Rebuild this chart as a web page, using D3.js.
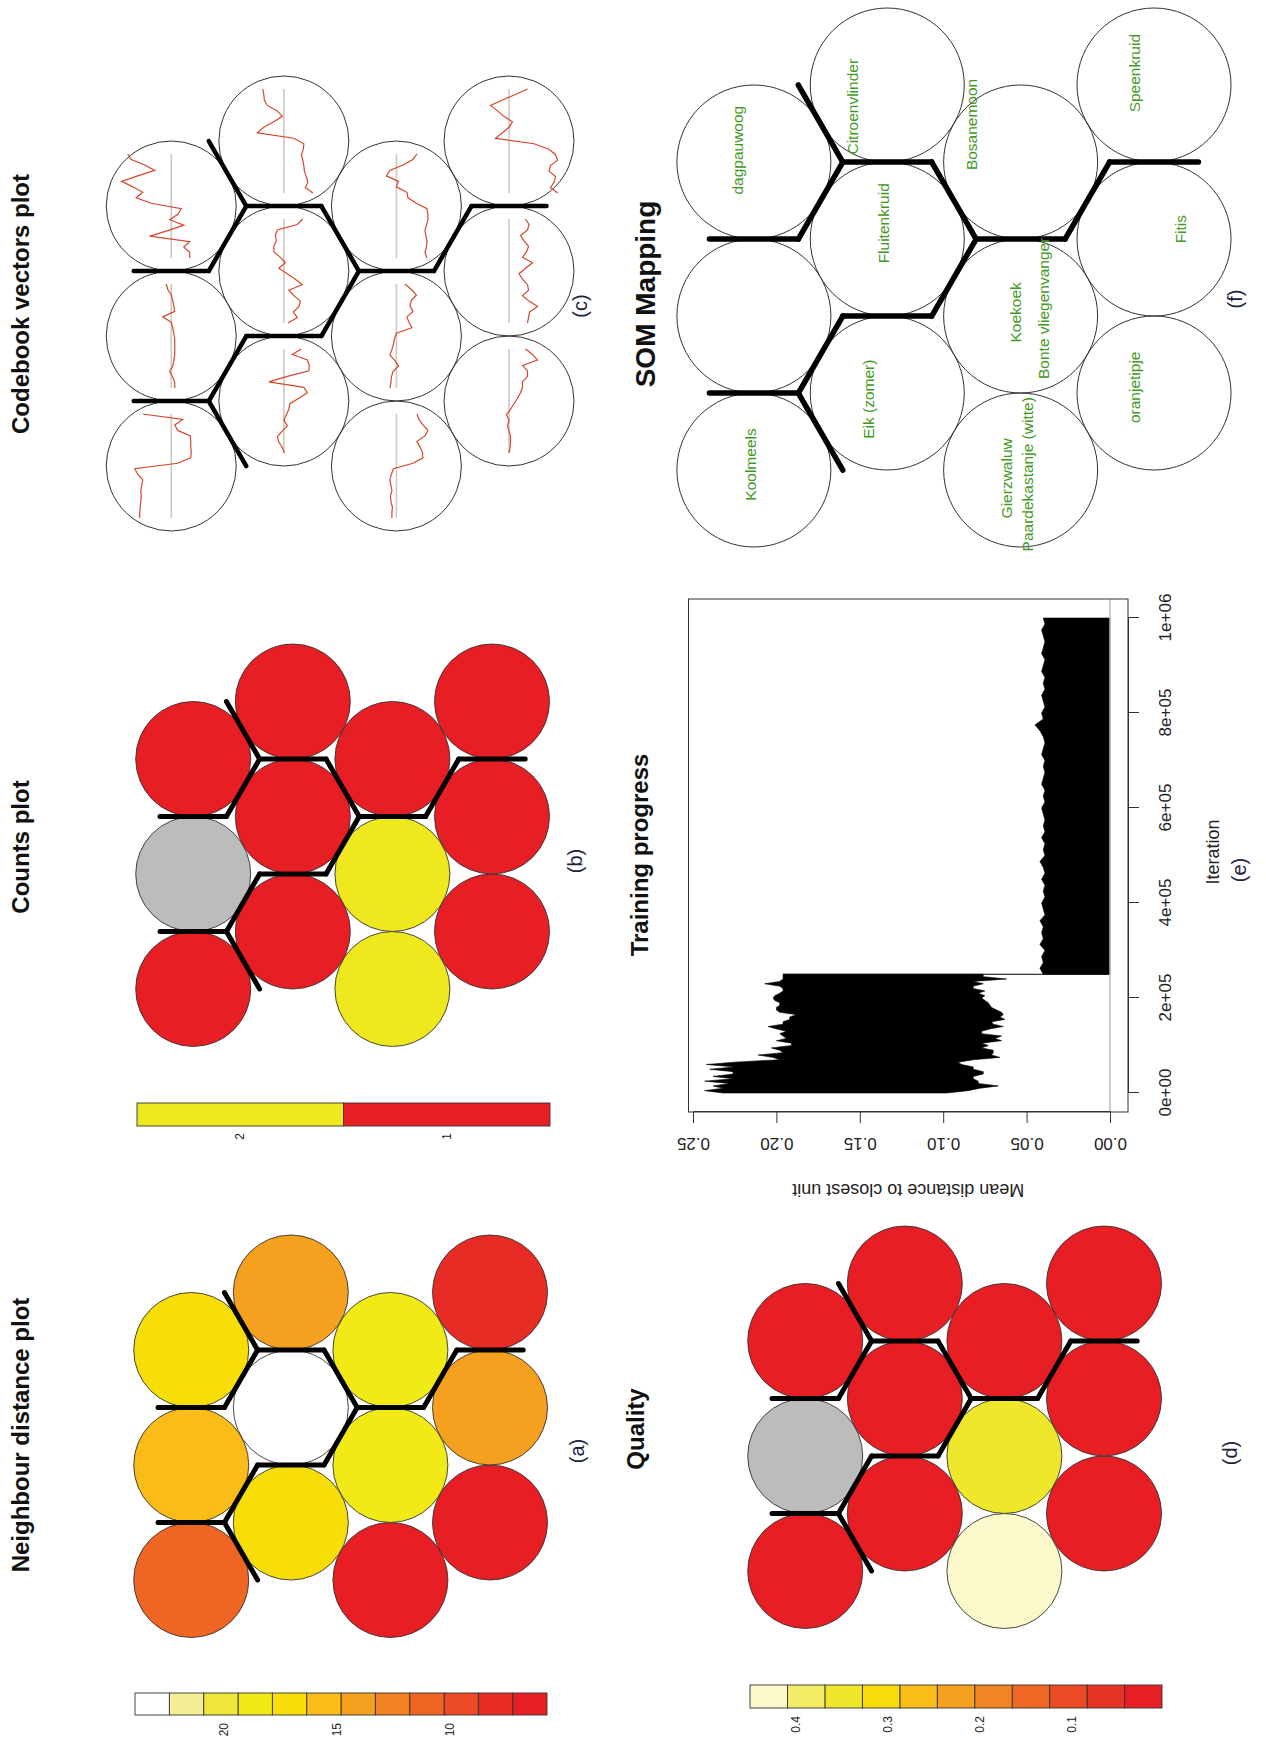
<!DOCTYPE html>
<html>
<head>
<meta charset="utf-8">
<script src="https://cdn.jsdelivr.net/npm/d3@7"></script>
<style>
  body { margin: 0; background: #fff; }
  svg text { font-family: "Liberation Sans", Arial, sans-serif; }
</style>
</head>
<body>
<div id="fig"></div>
<script>
const W = 1266, H = 1742;

// 3 x 4 hexagonal SOM, units in kohonen order: bottom row first, left to right
const xdim = 3, ydim = 4;
const clusters = [1, 1, 2, 1, 1, 2, 1, 3, 2, 4, 3, 5];

// (a) neighbour distances
const neighDist = [6.4, 14.1, 7.9, 5.71, 18.6, 18.9, 17.0, 23.94, 14.3, 11.0, 15.6, 16.8];
const neighRange = [5.71, 23.94];
const neighTicks = [10, 15, 20];
const neighColors = ['#E81E25', '#E62C25', '#EB4A24', '#EF6624', '#F28222', '#F6A020',
                     '#F9BC18', '#F8DE08', '#F2EA16', '#EFE73A', '#F4EE96', '#FFFFFF'];

// (b) counts (0 = empty unit)
const counts = [1, 1, 1, 2, 2, 1, 1, 1, 1, 1, 0, 1];
const countLevels = [1, 2];
const countColors = ['#E81E25', '#F0E81E'];

// (d) quality (null = empty unit)
const quality = [0.012, 0.006, 0.020, 0.45, 0.35, 0.004, 0.015, 0.0022, 0.009, 0.003, null, 0.018];
const qualityRange = [0.0022, 0.45];
const qualityTicks = [0.1, 0.2, 0.3, 0.4];
const qualityColors = ['#E81E25', '#E83425', '#EB4A24', '#EE6823', '#F28523', '#F6A020',
                       '#F9BD18', '#F8DD0C', '#EFE72C', '#F3EB66', '#FBF9CB'];
const emptyColor = '#BCBCBC';

// (c) codebook vectors, 20 variables per unit
const codes = [
  [0, -0.02, -0.03, -0.03, 0, 0.03, 0, 0.05, -0.03, -0.1, -0.17, -0.23, -0.27, -0.27, -0.37, -0.37, -0.27, -0.57, -0.47, -0.33],
  [-0.37, -0.39, -0.41, -0.57, -0.4, -0.27, -0.39, -0.37, -0.27, -0.2, -0.33, -0.47, -0.27, -0.35, -0.39, -0.3, -0.23, -0.37, -0.4, -0.33],
  [-0.97, -0.83, -0.9, -0.93, -0.8, -0.83, -0.97, -0.93, -0.8, -0.5, 0.27, 0.13, 0, -0.07, 0.1, 0.23, 0.37, 0.13, -0.13, -0.37],
  [0.09, 0.09, 0.08, 0.11, 0.12, 0.09, 0.11, 0.13, 0.1, 0.06, -0.33, -0.53, -0.52, -0.47, -0.41, -0.57, -0.63, -0.53, -0.45, -0.41],
  [0.13, 0.11, 0.1, 0.07, -0.04, 0.03, 0.13, 0.09, 0.06, 0.04, 0, -0.31, -0.25, -0.21, -0.33, -0.27, -0.3, -0.4, -0.3, -0.17],
  [-0.61, -0.57, -0.6, -0.61, -0.59, -0.57, -0.6, -0.63, -0.63, -0.61, -0.4, -0.23, -0.21, 0, -0.04, 0.2, 0.13, -0.13, -0.33, -0.41],
  [-0.01, 0.03, 0.1, 0.13, 0.03, -0.07, 0, -0.05, -0.1, -0.12, -0.3, -0.47, -0.4, 0.3, -0.07, -0.5, -0.51, -0.47, -0.17, -0.35],
  [-0.08, -0.27, -0.19, -0.3, -0.33, -0.2, -0.1, -0.37, -0.23, -0.07, 0.1, -0.03, 0.07, 0.2, 0.2, 0.15, 0.17, 0.13, -0.27, -0.38],
  [-0.58, -0.43, -0.48, -0.45, -0.41, -0.4, -0.38, -0.35, -0.39, -0.4, -0.2, 0.53, 0.4, 0.2, 0.03, 0.13, 0.33, 0.39, 0.4, 0.42],
  [0.63, 0.63, 0.62, 0.61, 0.6, 0.61, 0.59, 0.57, 0.67, 0.73, -0.13, -0.39, -0.4, -0.39, -0.39, -0.38, -0.13, -0.07, -0.23, 0.57],
  [-0.07, -0.07, -0.03, 0.03, -0.03, -0.05, -0.07, -0.07, -0.07, -0.07, -0.05, -0.03, 0, 0.17, -0.07, -0.05, -0.03, 0, 0.07, 0.1],
  [-0.37, -0.37, -0.25, -0.37, 0.43, 0.07, -0.25, 0.03, -0.13, -0.2, 0.4, 0.7, 0.57, 0.77, 0.99, 0.67, 0.33, 0.53, 0.8, 0.87]
];

// (e) training progress: envelope of the mean distance line
const iter1 = [0, 5000, 10000, 15000, 20000, 25000, 30000, 35000, 40000, 45000, 50000, 55000, 60000, 65000,
  70000, 75000, 80000, 85000, 90000, 95000, 100000, 105000, 110000, 115000, 120000, 125000, 130000, 135000,
  140000, 145000, 150000, 155000, 160000, 165000, 170000, 175000, 180000, 185000, 190000, 195000, 200000,
  205000, 210000, 215000, 220000, 225000, 230000, 235000, 240000, 245000, 250000];
const hi1 = [0.232, 0.243, 0.232, 0.238, 0.228, 0.243, 0.226, 0.238, 0.226, 0.226, 0.240, 0.225, 0.242, 0.225,
  0.198, 0.202, 0.211, 0.196, 0.198, 0.203, 0.191, 0.191, 0.200, 0.194, 0.196, 0.198, 0.194, 0.200,
  0.205, 0.196, 0.196, 0.192, 0.192, 0.188, 0.198, 0.200, 0.200, 0.198, 0.198, 0.201, 0.202,
  0.201, 0.198, 0.196, 0.196, 0.198, 0.207, 0.198, 0.196, 0.196, 0.196];
const lo1 = [0.098, 0.085, 0.078, 0.067, 0.079, 0.079, 0.082, 0.082, 0.076, 0.076, 0.082, 0.082, 0.089, 0.091,
  0.082, 0.066, 0.071, 0.070, 0.070, 0.077, 0.073, 0.077, 0.065, 0.069, 0.065, 0.077, 0.077, 0.072,
  0.064, 0.070, 0.071, 0.063, 0.066, 0.064, 0.065, 0.068, 0.071, 0.072, 0.073, 0.075, 0.077,
  0.075, 0.079, 0.075, 0.082, 0.082, 0.076, 0.082, 0.062, 0.076, 0.076];
const iter2 = [250000, 262500, 275000, 287500, 300000, 312500, 325000, 337500, 350000, 362500,
  375000, 387500, 400000, 412500, 425000, 437500, 450000, 462500, 475000, 487500,
  500000, 512500, 525000, 537500, 550000, 562500, 575000, 587500, 600000, 612500,
  625000, 637500, 650000, 662500, 675000, 687500, 700000, 712500, 725000, 737500,
  750000, 762500, 775000, 787500, 800000, 812500, 825000, 837500, 850000, 862500,
  875000, 887500, 900000, 912500, 925000, 937500, 950000, 962500, 975000, 987500, 1000000];
const hi2 = [0.040, 0.042, 0.040, 0.041, 0.039, 0.042, 0.040, 0.041, 0.040, 0.042,
  0.039, 0.040, 0.041, 0.039, 0.040, 0.039, 0.041, 0.039, 0.040, 0.042,
  0.039, 0.040, 0.039, 0.041, 0.039, 0.040, 0.039, 0.040, 0.041, 0.039,
  0.040, 0.039, 0.041, 0.040, 0.039, 0.040, 0.039, 0.041, 0.040, 0.039,
  0.040, 0.042, 0.045, 0.040, 0.041, 0.039, 0.040, 0.041, 0.039, 0.040,
  0.039, 0.041, 0.040, 0.039, 0.041, 0.040, 0.039, 0.040, 0.041, 0.039, 0.040];
const jump = {iter: 250000, from: 0.196, to: 0};
const iterTicks = [0, 200000, 400000, 600000, 800000, 1000000];
const distTicks = [0, 0.05, 0.10, 0.15, 0.20, 0.25];

// (f) mapping labels: unit (1-based) and small jitter in grid units
const mapNames = ['oranjetipje', 'Fitis', 'Speenkruid', 'Gierzwaluw', 'Paardekastanje (witte)', 'Koekoek',
  'Bonte vliegenvanger', 'Bosanemoon', 'Eik (zomer)', 'Fluitenkruid', 'Citroenvlinder', 'Koolmeels', 'dagpauwoog'];
const mapUnit = [1, 2, 3, 4, 4, 5, 5, 6, 7, 8, 9, 10, 12];
const mapJitX = [0.037, 0.064, 0.077, -0.054, -0.028, 0.024, 0.05, 0.244, -0.04, 0.102, -0.141, 0.036, 0.077];
const mapJitY = [0.123, -0.171, 0.123, 0.089, -0.045, 0.036, -0.152, 0.316, 0.119, 0.025, 0.226, 0.02, 0.108];

// ---------------------------------------------------------------------------
const SQ3 = Math.sqrt(3);
const units = d3.range(xdim * ydim).map(i => {
  const gx = i % xdim + 1, gy = Math.floor(i / xdim) + 1;
  return {i, X: gx + 0.5 * (gy % 2), Y: gy * SQ3 / 2};
});

// hexagon edges between neighbouring units of different clusters
const boundarySegs = [];
units.forEach(a => units.forEach(b => {
  if (b.i <= a.i) return;
  const dx = b.X - a.X, dy = b.Y - a.Y;
  if (Math.abs(Math.hypot(dx, dy) - 1) > 1e-6) return;
  if (clusters[a.i] === clusters[b.i]) return;
  const mx = (a.X + b.X) / 2, my = (a.Y + b.Y) / 2, h = 0.5 / SQ3;
  boundarySegs.push([[mx - dy * h, my + dx * h], [mx + dy * h, my - dx * h]]);
}));

const svg = d3.select('#fig').append('svg')
  .attr('width', W).attr('height', H)
  .style('background-color', '#fff');

// the figure is a landscape page turned a quarter turn to the left
const fig = svg.append('g').attr('transform', `translate(0,${H}) rotate(-90)`);

const layout = {
  a: {s: 115, x1: 162, yb: 490},
  b: {s: 115, x1: 753, yb: 492},
  c: {s: 130, x1: 1276, yb: 509},
  d: {s: 115, x1: 171, yb: 1104},
  f: {s: 154, x1: 1272, yb: 1154}
};

function hexPanel(p) {
  const g = fig.append('g');
  const x = d3.scaleLinear().domain([1, 2]).range([p.x1, p.x1 + p.s]);
  const y = d3.scaleLinear().domain([SQ3 / 2, SQ3]).range([p.yb, p.yb - p.s * SQ3 / 2]);
  return {g, x, y, r: p.s / 2};
}

function drawUnits(P, fill, sw) {
  P.g.selectAll('circle.unit').data(units).join('circle')
    .attr('class', 'unit')
    .attr('cx', u => P.x(u.X))
    .attr('cy', u => P.y(u.Y))
    .attr('r', P.r)
    .attr('fill', fill)
    .attr('stroke', '#333')
    .attr('stroke-width', sw || 0.9);
}

function drawBounds(P, w) {
  P.g.selectAll('line.bnd').data(boundarySegs).join('line')
    .attr('class', 'bnd')
    .attr('x1', d => P.x(d[0][0])).attr('y1', d => P.y(d[0][1]))
    .attr('x2', d => P.x(d[1][0])).attr('y2', d => P.y(d[1][1]))
    .attr('stroke', '#000')
    .attr('stroke-width', w)
    .attr('stroke-linecap', 'round');
}

// vertical colour bar on the left of a panel
function colorBar(o) {
  const g = fig.append('g');
  const sc = d3.scaleLinear().domain(o.domain).range([o.y1, o.y0]);
  const n = o.colors.length, step = (o.domain[1] - o.domain[0]) / n;
  g.selectAll('rect').data(o.colors).join('rect')
    .attr('x', o.x0)
    .attr('width', o.x1 - o.x0)
    .attr('y', (c, k) => sc(o.domain[0] + (k + 1) * step))
    .attr('height', (c, k) => sc(o.domain[0] + k * step) - sc(o.domain[0] + (k + 1) * step))
    .attr('fill', c => c)
    .attr('stroke', '#333')
    .attr('stroke-width', 0.9);
  g.selectAll('text').data(o.ticks).join('text')
    .attr('x', o.labelX)
    .attr('y', d => sc(d))
    .attr('dy', '0.35em')
    .attr('text-anchor', 'end')
    .attr('font-size', 12)
    .attr('fill', '#222')
    .text(o.fmt || (d => d));
}

function title(txt, x, y, size) {
  fig.append('text').attr('x', x).attr('y', y)
    .attr('text-anchor', 'middle')
    .attr('font-size', size || 24)
    .attr('font-weight', 'bold')
    .attr('fill', '#111')
    .text(txt);
}

function tag(txt, x, y) {
  fig.append('text').attr('x', x).attr('y', y)
    .attr('text-anchor', 'middle')
    .attr('font-size', 20)
    .attr('fill', '#1c2242')
    .text(txt);
}

// ---- (a) Neighbour distance plot
const aP = hexPanel(layout.a);
const neighColor = d3.scaleQuantize().domain(neighRange).range(neighColors);
drawUnits(aP, u => neighColor(neighDist[u.i]));
drawBounds(aP, 5);
colorBar({x0: 27, x1: 49, y0: 135, y1: 547, domain: neighRange, colors: neighColors,
          ticks: neighTicks, labelX: 19});
title('Neighbour distance plot', 307, 29);
tag('(a)', 291, 584);

// ---- (b) Counts plot
const bP = hexPanel(layout.b);
const countColor = d3.scaleOrdinal().domain(countLevels).range(countColors);
drawUnits(bP, u => counts[u.i] ? countColor(counts[u.i]) : emptyColor);
drawBounds(bP, 5);
colorBar({x0: 616, x1: 639, y0: 137, y1: 550, domain: [0.5, 2.5], colors: countColors,
          ticks: countLevels, labelX: 609});
title('Counts plot', 895, 29);
tag('(b)', 881, 582);

// ---- (c) Codebook vectors plot
const cP = hexPanel(layout.c);
const nVars = codes[0].length;
const vx = d3.scaleLinear().domain([0, nVars - 1]).range([-0.4, 0.4]);
const vy = d3.scaleLinear().domain([-1, 1]).range([-0.385, 0.385]);
drawUnits(cP, 'none', 1);
cP.g.selectAll('line.base').data(units).join('line')
  .attr('class', 'base')
  .attr('x1', u => cP.x(u.X + vx(0))).attr('x2', u => cP.x(u.X + vx(nVars - 1)))
  .attr('y1', u => cP.y(u.Y)).attr('y2', u => cP.y(u.Y))
  .attr('stroke', '#CFC8C0').attr('stroke-width', 1.6);
cP.g.selectAll('path.code').data(units).join('path')
  .attr('class', 'code')
  .attr('d', u => d3.line()(codes[u.i].map((v, k) => [cP.x(u.X + vx(k)), cP.y(u.Y + vy(v))])))
  .attr('fill', 'none')
  .attr('stroke', '#D5472B')
  .attr('stroke-width', 1.2);
drawBounds(cP, 4.5);
title('Codebook vectors plot', 1438, 29);
tag('(c)', 1436, 587);

// ---- (d) Quality
const dP = hexPanel(layout.d);
const qualityColor = d3.scaleQuantize().domain(qualityRange).range(qualityColors);
drawUnits(dP, u => quality[u.i] == null ? emptyColor : qualityColor(quality[u.i]));
drawBounds(dP, 5);
colorBar({x0: 34, x1: 57, y0: 750, y1: 1162, domain: qualityRange, colors: qualityColors,
          ticks: qualityTicks, labelX: 26, fmt: d3.format('.1f')});
title('Quality', 313, 644);
tag('(d)', 289, 1237);

// ---- (e) Training progress
const eg = fig.append('g');
const x = d3.scaleLinear().domain([0, 1000000]).range([649, 1124]);
const y = d3.scaleLinear().domain([0, 0.25]).range([1110, 693]);
const xr = x.domain()[1] - x.domain()[0];
const box = {x0: x(-0.04 * xr), x1: x(1.04 * xr), y0: y(0.2527), y1: y(-0.0108)};

const phase1 = iter1.map((it, k) => ({it, hi: hi1[k], lo: lo1[k]}));
const phase2 = iter2.map((it, k) => ({it, hi: hi2[k], lo: 0}));
const area = d3.area()
  .x(d => x(d.it)).y0(d => y(d.lo)).y1(d => y(d.hi));
eg.append('path').datum(phase1).attr('d', area)
  .attr('fill', '#000').attr('stroke', '#000').attr('stroke-width', 0.6);
eg.append('path').datum(phase2).attr('d', area)
  .attr('fill', '#000').attr('stroke', '#000').attr('stroke-width', 0.6);
eg.append('line')
  .attr('x1', x(jump.iter)).attr('x2', x(jump.iter))
  .attr('y1', y(jump.from)).attr('y2', y(jump.to))
  .attr('stroke', '#000').attr('stroke-width', 1);
eg.append('line')
  .attr('x1', box.x0).attr('x2', box.x1)
  .attr('y1', y(0)).attr('y2', y(0))
  .attr('stroke', '#BEBEBE').attr('stroke-width', 1.5);
eg.append('rect')
  .attr('x', box.x0).attr('y', box.y0)
  .attr('width', box.x1 - box.x0).attr('height', box.y1 - box.y0)
  .attr('fill', 'none').attr('stroke', '#333').attr('stroke-width', 1);

const sci = d => {
  const [m, e] = d.toExponential(0).split('e');
  return m + 'e' + e[0] + e.slice(1).padStart(2, '0');
};
const xAxis = eg.append('g')
  .attr('transform', `translate(0,${box.y1})`)
  .call(d3.axisBottom(x).tickValues(iterTicks).tickFormat(sci).tickSize(11).tickSizeOuter(0));
xAxis.selectAll('text').attr('y', 37).attr('dy', '0.35em').attr('font-size', 17).attr('fill', '#222');
const yAxis = eg.append('g')
  .attr('transform', `translate(${box.x0},0)`)
  .call(d3.axisLeft(y).tickValues(distTicks).tickFormat(d3.format('.2f')).tickSize(11).tickSizeOuter(0));
yAxis.selectAll('text')
  .attr('x', null).attr('dy', null)
  .attr('transform', 'translate(-26,0) rotate(-90)')
  .attr('text-anchor', 'middle')
  .attr('font-size', 17).attr('fill', '#222');
eg.selectAll('.domain, .tick line').attr('stroke', '#333');
eg.selectAll('.tick text').attr('font-family', '"Liberation Sans", Arial, sans-serif');

eg.append('text')
  .attr('transform', `translate(558,${(box.y0 + box.y1) / 2}) rotate(-90)`)
  .attr('text-anchor', 'middle').attr('font-size', 18).attr('fill', '#222')
  .text('Mean distance to closest unit');
eg.append('text')
  .attr('x', 890).attr('y', 1219)
  .attr('text-anchor', 'middle').attr('font-size', 18).attr('fill', '#222')
  .text('Iteration');
title('Training progress', 887, 648);
tag('(e)', 872, 1246);

// ---- (f) SOM Mapping
const fP = hexPanel(layout.f);
drawUnits(fP, 'none', 1);
drawBounds(fP, 5.5);
fP.g.selectAll('text.lab').data(mapNames).join('text')
  .attr('class', 'lab')
  .attr('x', (t, k) => fP.x(units[mapUnit[k] - 1].X + mapJitX[k]))
  .attr('y', (t, k) => fP.y(units[mapUnit[k] - 1].Y + mapJitY[k]))
  .attr('dy', '0.35em')
  .attr('text-anchor', 'middle')
  .attr('font-size', 15.5)
  .attr('fill', '#3F9A22')
  .text(t => t);
title('SOM Mapping', 1448, 655, 28);
tag('(f)', 1443, 1242);
</script>
</body>
</html>
